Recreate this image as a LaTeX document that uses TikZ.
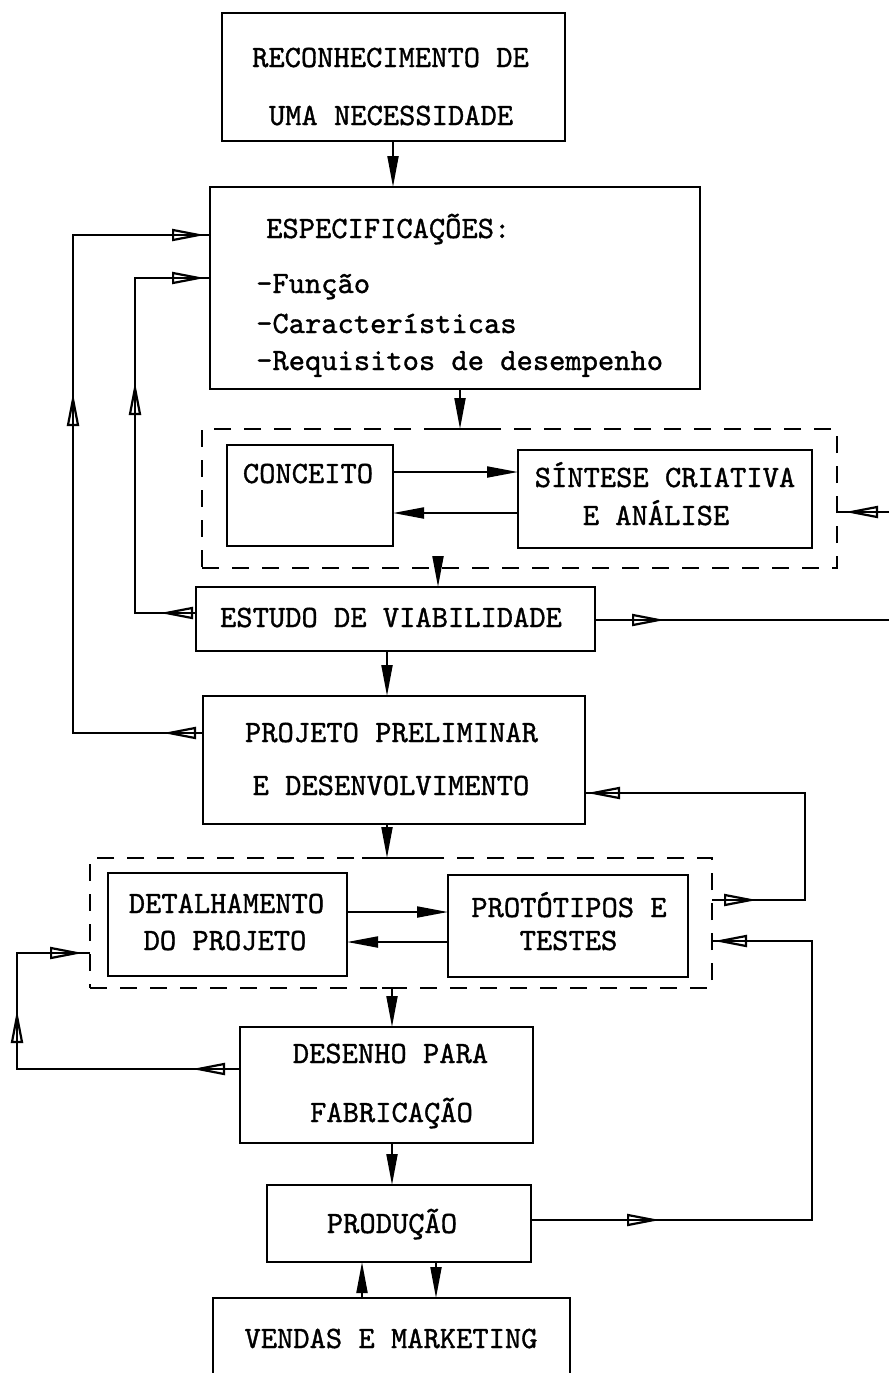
\documentclass[tikz,border=0pt]{standalone}
\usepackage{fontspec}
\setmonofont{lmmono10-regular.otf}[FakeBold=1.1]
\usetikzlibrary{arrows.meta,decorations.markings,calc}
\begin{document}
\begin{tikzpicture}[x=1pt,y=-1pt,
  boxline/.style={line width=2.8pt},
  box/.style={draw, boxline, rectangle, inner sep=0pt, outer sep=0pt},
  group/.style={draw, line width=2.6pt, dash pattern=on 17pt off 13pt,
                rectangle, inner sep=0pt, outer sep=0pt},
  txt/.style={font=\ttfamily\fontsize{31}{37}\selectfont, inner sep=0pt, anchor=base},
  ltxt/.style={font=\ttfamily\fontsize{#1}{37}\selectfont, inner sep=0pt, anchor=base west},
  conn/.style={line width=2pt},
  fa/.style={conn, -{Triangle[length=31pt,width=11pt]}},
  oa/.style={postaction={decorate, decoration={markings,
      mark=at position #1 with {\arrow{Triangle[open,length=33pt,width=12pt,line width=2.2pt]}}}}},
]
\path[use as bounding box] (0,0) rectangle (889,1373);
\clip (0,0) rectangle (889,1373);

% ---------- boxes ----------
\node[box, minimum width=343pt, minimum height=128pt] (rec)   at (393.5,77)   {};
\node[box, minimum width=490pt, minimum height=202pt] (spec)  at (455,288)    {};
\node[group, minimum width=635pt, minimum height=139pt] (grpA) at (519.5,498.5) {};
\node[box, minimum width=166pt, minimum height=101pt] (conc)  at (310,495.5)  {};
\node[box, minimum width=294pt, minimum height=98pt]  (sint)  at (665,499)    {};
\node[box, minimum width=399pt, minimum height=64pt]  (est)   at (395.5,619)  {};
\node[box, minimum width=382pt, minimum height=128pt] (proj)  at (394,760)    {};
\node[group, minimum width=622pt, minimum height=130pt] (grpB) at (401,923)   {};
\node[box, minimum width=239pt, minimum height=103pt] (det)   at (227.5,924.5) {};
\node[box, minimum width=240pt, minimum height=102pt] (prot)  at (568,926)    {};
\node[box, minimum width=293pt, minimum height=116pt] (des)   at (386.5,1085) {};
\node[box, minimum width=264pt, minimum height=77pt]  (prod)  at (399,1223.5) {};
\node[box, minimum width=357pt, minimum height=102pt] (vend)  at (391.5,1349) {};

% ---------- texts ----------
\node[txt] (recA) at (390.5,67)  {RECONHECIMENTO DE};
\node[txt] (recB) at (391,125)   {UMA NECESSIDADE};
\node[ltxt=31] (specA) at (266,238) {ESPECIFICAÇÕES:};
\node[ltxt=31] (specB) at (256,293) {-Função};
\node[ltxt=31] (specC) at (256,333) {-Características};
\node[ltxt=31] (specD) at (256,370) {-Requisitos de desempenho};
\node[txt] (concA) at (308,483)  {CONCEITO};
\node[txt] (sintA) at (665,487)  {SÍNTESE CRIATIVA};
\node[txt] (sintB) at (656,525)  {E ANÁLISE};
\node[txt] (estA)  at (391,627)  {ESTUDO DE VIABILIDADE};
\node[txt] (projA) at (391.5,742) {PROJETO PRELIMINAR};
\node[txt] (projB) at (391,795)  {E DESENVOLVIMENTO};
\node[txt] (detA)  at (226.5,913) {DETALHAMENTO};
\node[txt] (detB)  at (225,950)  {DO PROJETO};
\node[txt] (protA) at (569,917)  {PROTÓTIPOS E};
\node[txt] (protB) at (568.5,950) {TESTES};
\node[txt] (desA)  at (390.5,1063) {DESENHO PARA};
\node[txt] (desB)  at (391.5,1122) {FABRICAÇÃO};
\node[txt] (prodA) at (392,1233) {PRODUÇÃO};
\node[txt] (vendA) at (391,1348) {VENDAS E MARKETING};

% ---------- columns, rows and corners of the connectors ----------
\coordinate (v393) at (393,0);
\coordinate (v460) at (460,0);
\coordinate (v438) at (438,0);
\coordinate (v387) at (387,0);
\coordinate (v392) at (392,0);
\coordinate (v362) at (362,0);
\coordinate (v436) at (436,0);
\coordinate (h472) at (0,472);
\coordinate (h513) at (0,513);
\coordinate (h912) at (0,912);
\coordinate (h942) at (0,942);
\coordinate (o1) at (73,733);   \coordinate (o2) at (73,235);
\coordinate (i1) at (135,613);  \coordinate (i2) at (135,278);
\coordinate (e1) at (889,620);  \coordinate (e2) at (889,512);
\coordinate (r1a) at (805,900); \coordinate (r1b) at (805,793);
\coordinate (r2a) at (812,1220);\coordinate (r2b) at (812,941);
\coordinate (l1) at (17,1069);  \coordinate (l2) at (17,953);

% ---------- main flow ----------
\draw[fa] (rec.south -| v393) -- (spec.north -| v393);
\draw[fa] (spec.south -| v460) -- (grpA.north -| v460);
\draw[boxline] ($(grpA.north -| v460)+(-27,0)$) -- ($(grpA.north -| v460)+(25,0)$);
\draw[fa] (conc.east |- h472) -- (sint.west |- h472);
\draw[fa] (sint.west |- h513) -- (conc.east |- h513);
\draw[fa] (grpA.south -| v438) -- (est.north -| v438);
\draw[fa] (est.south -| v387) -- (proj.north -| v387);
\draw[fa] (proj.south -| v387) -- (grpB.north -| v387);
\draw[boxline] ($(grpB.north -| v387)+(-25,0)$) -- ($(grpB.north -| v387)+(40,0)$);
\draw[fa] (det.east |- h912) -- (prot.west |- h912);
\draw[fa] (prot.west |- h942) -- (det.east |- h942);
\draw[fa] (grpB.south -| v392) -- (des.north -| v392);
\draw[boxline] ($(grpB.south -| v392)+(-10,0)$) -- ($(grpB.south -| v392)+(11,0)$);
\draw[fa] (des.south -| v392) -- (prod.north -| v392);
\draw[fa] (vend.north -| v362) -- (prod.south -| v362);
\draw[fa] (prod.south -| v436) -- (vend.north -| v436);

% ---------- feedback loops ----------
\draw[conn, oa=40pt, oa=470pt, oa=-5pt] (proj.west |- o1) -- (o1) -- (o2) -- (spec.west |- o2);
\draw[conn, oa=36pt, oa=292pt, oa=-5pt] (est.west |- i1) -- (i1) -- (i2) -- (spec.west |- i2);
\draw[conn, oa=70pt] (est.east |- e1) -- (e1);
\draw[conn, oa=44pt] (e2) -- (grpA.east |- e2);
\draw[conn, oa=45pt, oa=-2pt] (grpB.east |- r1a) -- (r1a) -- (r1b) -- (proj.east |- r1b);
\draw[conn, oa=129pt, oa=-2pt] (prod.east |- r2a) -- (r2a) -- (r2b) -- (grpB.east |- r2b);
\draw[conn, oa=48pt, oa=282pt, oa=-7pt] (des.west |- l1) -- (l1) -- (l2) -- (grpB.west |- l2);
\end{tikzpicture}
\end{document}
